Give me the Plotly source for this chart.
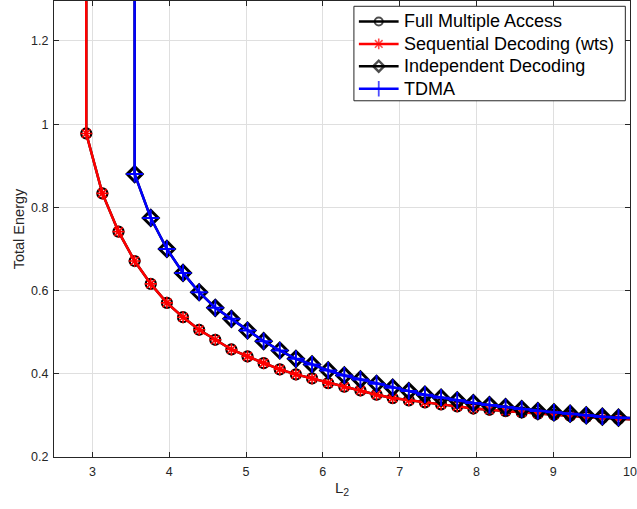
import plotly.graph_objects as go

# L2 values where the curves were sampled (marker positions)
L2_GRID = [2.92, 3.13, 3.34, 3.55, 3.76, 3.97, 4.18, 4.39, 4.60, 4.81,
           5.02, 5.23, 5.44, 5.65, 5.86, 6.07, 6.28, 6.49, 6.70, 6.91,
           7.12, 7.33, 7.54, 7.75, 7.96, 8.17, 8.38, 8.59, 8.80, 9.01,
           9.22, 9.43, 9.64, 9.85]

# Total energy: full multiple access / sequential decoding (wts)
E_JOINT = [0.9776, 0.8336, 0.7416, 0.6710, 0.6161, 0.5705, 0.5360, 0.5057,
           0.4817, 0.4585, 0.4417, 0.4256, 0.4105, 0.3985, 0.3889, 0.3776,
           0.3690, 0.3600, 0.3498, 0.3416, 0.3361, 0.3313, 0.3265, 0.3217,
           0.3165, 0.3135, 0.3104, 0.3073, 0.3042, 0.3018, 0.2994, 0.2962,
           0.2944, 0.2922]

# Total energy: independent decoding / TDMA (feasible from L2 = 3.55)
L2_GRID_INDEP = L2_GRID[3:]
E_INDEP = [0.8800, 0.7745, 0.7000, 0.6425, 0.5960, 0.5585, 0.5320, 0.5040,
           0.4784, 0.4560, 0.4360, 0.4225, 0.4080, 0.3960, 0.3865, 0.3761,
           0.3666, 0.3584, 0.3498, 0.3426, 0.3361, 0.3296, 0.3248, 0.3200,
           0.3152, 0.3104, 0.3073, 0.3042, 0.3001, 0.2970, 0.2946]

# Feasibility edge (energy blows up just below it) and the L2 = 10 end point
L2_EDGE_JOINT, L2_EDGE_INDEP = 2.91, 3.54
E_UNBOUNDED = 50.0
L2_END = 10.0
E_JOINT_END, E_INDEP_END = 0.2910, 0.2935

X_TICKS = [3, 4, 5, 6, 7, 8, 9, 10]
Y_TICKS = [0.2, 0.4, 0.6, 0.8, 1.0, 1.2]
Y_TICK_TEXT = ["0.2", "0.4", "0.6", "0.8", "1", "1.2"]

LEGEND_NAMES = ["Full Multiple Access", "Sequential Decoding (wts)",
                "Independent Decoding", "TDMA"]

FONT = "Liberation Sans, Arial, Helvetica, sans-serif"
AX = "#262626"

# plot area in pixels (figure 637 x 509)
W, H = 637, 509
ML, MR, MT, MB = 54, 3, 0, 52
PX_RIGHT, PX_BOTTOM = W - MR, H - MB

# series styles: (color, symbol, marker size, marker line width)
STYLES = [
    ("black", "circle-open", 10, 2.2),
    ("#ff0000", "asterisk-open", 10, 1.6),
    ("black", "diamond-open", 11.5, 3.0),
    ("#0000ff", "cross-thin-open", 12, 2.0),
]
LEGEND_MARKER = [(8, 2.0), (9, 1.6), (8.5, 2.4), (11, 1.8)]
LINE_W = 2.5

fig = go.Figure()


def add_series(name, xs, ys, x_edge, y_end, style):
    color, symbol, size, mlw = style
    fig.add_trace(go.Scatter(
        x=[x_edge] + xs + [L2_END], y=[E_UNBOUNDED] + ys + [y_end],
        mode="lines", showlegend=False, hoverinfo="skip",
        line=dict(color=color, width=LINE_W)))
    fig.add_trace(go.Scatter(
        x=xs, y=ys, mode="markers", showlegend=False, name=name,
        marker=dict(symbol=symbol, size=size, color=color,
                    line=dict(color=color, width=mlw))))


add_series(LEGEND_NAMES[0], L2_GRID, E_JOINT, L2_EDGE_JOINT, E_JOINT_END, STYLES[0])
add_series(LEGEND_NAMES[1], L2_GRID, E_JOINT, L2_EDGE_JOINT, E_JOINT_END, STYLES[1])
add_series(LEGEND_NAMES[2], L2_GRID_INDEP, E_INDEP, L2_EDGE_INDEP, E_INDEP_END, STYLES[2])
add_series(LEGEND_NAMES[3], L2_GRID_INDEP, E_INDEP, L2_EDGE_INDEP, E_INDEP_END, STYLES[3])

# ---- legend box, drawn on an overlay frame measured in pixels ----
BOX_X0, BOX_X1, BOX_Y0, BOX_Y1 = 356, 629.3, 5.3, 100
ROW_Y = [20.5, 43.0, 65.3, 88.0]
SAMPLE_X0, SAMPLE_X1 = 361, 401
TEXT_X = 404

fig.add_trace(go.Scatter(
    x=[BOX_X0, BOX_X1, BOX_X1, BOX_X0, BOX_X0],
    y=[BOX_Y0, BOX_Y0, BOX_Y1, BOX_Y1, BOX_Y0],
    xaxis="x2", yaxis="y2", mode="lines", fill="toself", fillcolor="white",
    line=dict(color=AX, width=1), showlegend=False, hoverinfo="skip"))

for name, ry, (color, symbol, _, _), (msize, mlw) in zip(LEGEND_NAMES, ROW_Y, STYLES, LEGEND_MARKER):
    mid = (SAMPLE_X0 + SAMPLE_X1) / 2
    fig.add_trace(go.Scatter(
        x=[SAMPLE_X0, mid, SAMPLE_X1], y=[ry, ry, ry], xaxis="x2", yaxis="y2",
        mode="lines+markers", showlegend=False, hoverinfo="skip",
        line=dict(color=color, width=LINE_W),
        marker=dict(symbol=symbol, size=[0, msize, 0], color=color,
                    line=dict(color=color, width=[0, mlw, 0]))))
    fig.add_annotation(
        x=TEXT_X, y=ry, xref="x2", yref="y2", text=name, showarrow=False,
        xanchor="left", yanchor="middle", align="left",
        font=dict(family=FONT, size=18, color="black"))

fig.update_layout(
    width=W, height=H,
    margin=dict(l=ML, r=MR, t=MT, b=MB),
    paper_bgcolor="white", plot_bgcolor="white",
    font=dict(family=FONT, color=AX, size=12.5),
    showlegend=False,
    xaxis=dict(
        range=[2.5, 10], tickvals=X_TICKS, ticktext=[str(v) for v in X_TICKS],
        showgrid=True, gridcolor="#dfdfdf", gridwidth=1, zeroline=False,
        showline=True, linecolor=AX, linewidth=1, mirror="ticks",
        ticks="inside", ticklen=5, tickcolor=AX, ticklabelstandoff=3,
        ticklabeloverflow="allow",
        tickfont=dict(size=12.5, color=AX),
        title=dict(text="L<sub>2</sub>", font=dict(size=15, color=AX), standoff=4),
    ),
    yaxis=dict(
        range=[0.2, 1.296], tickvals=Y_TICKS, ticktext=Y_TICK_TEXT,
        showgrid=True, gridcolor="#dfdfdf", gridwidth=1, zeroline=False,
        showline=True, linecolor=AX, linewidth=1, mirror="ticks",
        ticks="inside", ticklen=5, tickcolor=AX, ticklabelstandoff=2,
        ticklabeloverflow="allow",
        tickfont=dict(size=12.5, color=AX),
        title=dict(text="Total Energy", font=dict(size=14.5, color=AX), standoff=3),
    ),
    xaxis2=dict(overlaying="x", range=[ML, PX_RIGHT], visible=False, fixedrange=True),
    yaxis2=dict(overlaying="y", range=[PX_BOTTOM, MT], visible=False, fixedrange=True),
)

fig.write_html("out.html")
